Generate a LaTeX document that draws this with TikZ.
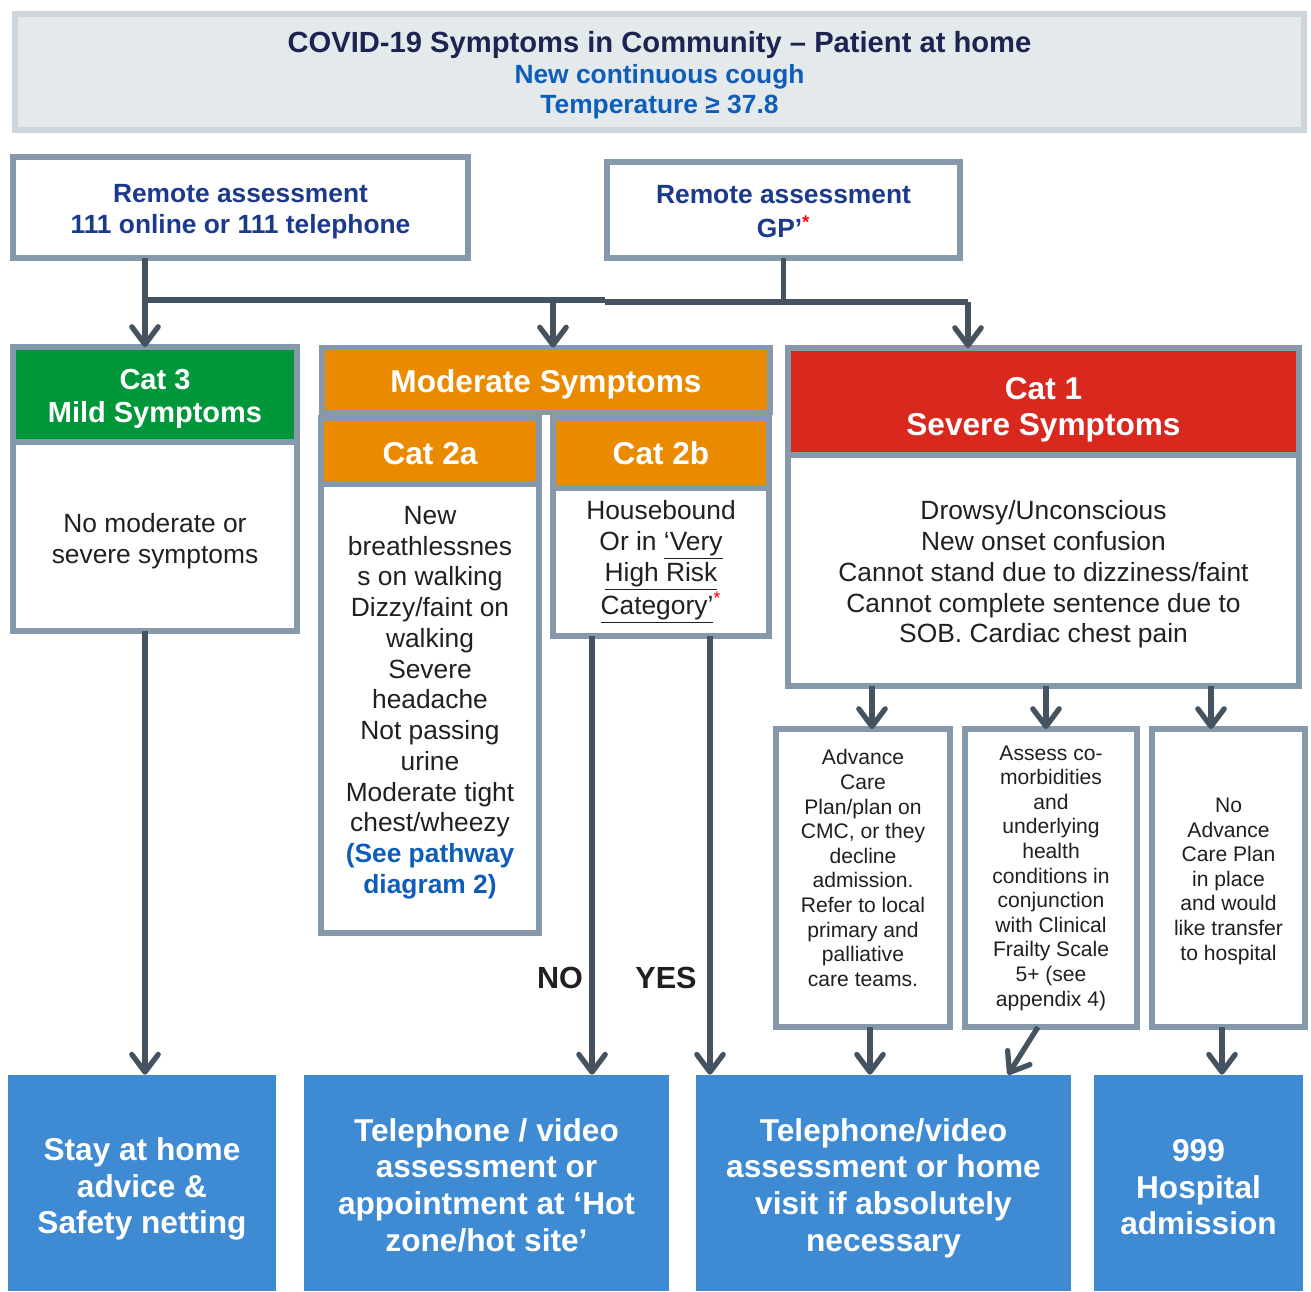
\documentclass[tikz,border=0pt]{standalone}
\usepackage{fontspec}
\setmainfont{Liberation Sans}
\usetikzlibrary{positioning,arrows.meta}
\pgfdeclarelayer{background layer}
\pgfsetlayers{background layer,main}
\definecolor{framegray}{HTML}{8599AB}
\definecolor{linkgray}{HTML}{44535F}
\definecolor{titlefill}{HTML}{E4E9EC}
\definecolor{titleline}{HTML}{CDD6DD}
\definecolor{titlenavy}{HTML}{1D2452}
\definecolor{subblue}{HTML}{0E5DB8}
\definecolor{navytext}{HTML}{1B3A8C}
\definecolor{bodytext}{HTML}{231F20}
\definecolor{catgreen}{HTML}{00973A}
\definecolor{modorange}{HTML}{EA8A00}
\definecolor{catred}{HTML}{D9291F}
\definecolor{outblue}{HTML}{3E8BD4}
% invisible struts to nudge text inside fixed boxes
\newcommand{\toppad}[1]{\rule{0pt}{#1}}
\newcommand{\botpad}[1]{\rule[-#1]{0pt}{0pt}}
\tikzset{
	block base/.style={draw=framegray, rectangle, line width=3.4pt, outer sep=0pt, inner sep=0pt, align=center, text=bodytext},
	head base/.style={block base, text=white, font=\bfseries\fontsize{18}{21}\selectfont},
	body base/.style={block base, fill=white, font=\fontsize{15}{17.5}\selectfont},
	small base/.style={block base, fill=white, font=\fontsize{12}{14}\selectfont},
	out base/.style={rectangle, fill=outblue, text=white, align=center, inner sep=0pt, font=\bfseries\fontsize{18}{20.8}\selectfont},
	link/.style={draw=linkgray, line width=3pt},
	arr/.style={link, -{Straight Barb[length=10pt,width=15pt,round]}},
}
\begin{document}
\begin{tikzpicture}[x=0.02cm, y=-0.02cm]
	\useasboundingbox (0,0) rectangle (1311,1291);
	% Title banner
	\node [block base, draw=titleline, fill=titlefill, text=titlenavy, minimum width=25.78cm, minimum height=2.32cm, font=\bfseries\fontsize{15}{17.4}\selectfont] (title) at (659.5,72) {{\fontsize{16.6}{17.6}\selectfont\toppad{16.1pt}COVID-19 Symptoms in Community – Patient at home}\\\textcolor{subblue}{New continuous cough}\\\textcolor{subblue}{Temperature ≥ 37.8}};

	% Remote assessment
	\node [block base, fill=white, text=navytext, minimum width=9.10cm, minimum height=2.02cm, font=\bfseries\fontsize{15}{17.6}\selectfont] (r111) at (240.5,207.5) {\toppad{15.3pt}Remote assessment\\111 online or 111 telephone};
	\node [block base, fill=white, text=navytext, minimum width=7.06cm, minimum height=1.92cm, font=\bfseries\fontsize{15}{19.5}\selectfont] (rgp) at (783.5,210) {\toppad{12.5pt}Remote assessment\\GP’\textsuperscript{\color{red}*}};

	% Categories
	\node [head base, fill=catgreen, minimum width=5.69cm, minimum height=1.90cm, font=\bfseries\fontsize{16.5}{18.8}\selectfont] (cat3head) at (155,394.5) {\toppad{16.4pt}Cat 3\\Mild Symptoms};
	\node [body base, minimum width=5.69cm, minimum height=3.78cm, below=0pt of cat3head] (cat3body) {\toppad{15.9pt}No moderate or\\severe symptoms};

	\node [head base, fill=modorange, minimum width=8.96cm, minimum height=1.30cm] (modhead) at (546,380) {\toppad{17.7pt}Moderate Symptoms};
	\node [head base, fill=modorange, minimum width=4.36cm, minimum height=1.32cm] (cat2ahead) at (430,451) {\toppad{15.2pt}Cat 2a};
	\node [body base, minimum width=4.36cm, minimum height=8.98cm, below=0pt of cat2ahead] (cat2abody) {New\\breathlessnes\\s on walking\\Dizzy/faint on\\walking\\Severe\\headache\\Not passing\\urine\\Moderate tight\\chest/wheezy\\{\bfseries\color{subblue}(See pathway}\\{\bfseries\color{subblue}diagram 2)}\botpad{9.9pt}};
	\node [head base, fill=modorange, minimum width=4.32cm, minimum height=1.40cm] (cat2bhead) at (661,453) {Cat 2b};
	\node [body base, minimum width=4.32cm, minimum height=2.96cm, below=0pt of cat2bhead] (cat2bbody) {Housebound\\Or in \underline{‘Very}\\\underline{High Risk}\\\underline{Category’}\textsuperscript{\color{red}*}};

	\node [head base, fill=catred, minimum width=10.22cm, minimum height=2.14cm] (cat1head) at (1043.5,401.5) {\toppad{22pt}Cat 1\\Severe Symptoms};
	\node [body base, minimum width=10.22cm, minimum height=4.62cm, below=0pt of cat1head] (cat1body) {\toppad{15.5pt}Drowsy/Unconscious\\New onset confusion\\Cannot stand due to dizziness/faint\\Cannot complete sentence due to\\SOB. Cardiac chest pain};

	% Cat 1 options
	\node [small base, minimum width=3.48cm, minimum height=5.96cm] (acp) at (863,878) {Advance\\Care\\Plan/plan on\\CMC, or they\\decline\\admission.\\Refer to local\\primary and\\palliative\\care teams.\botpad{11.4pt}};
	\node [small base, minimum width=3.44cm, minimum height=5.96cm] (assess) at (1051,878) {Assess co-\\morbidities\\and\\underlying\\health\\conditions in\\conjunction\\with Clinical\\Frailty Scale\\5+ (see\\appendix 4)};
	\node [small base, minimum width=3.06cm, minimum height=5.96cm] (noacp) at (1228.5,878) {\toppad{12pt}No\\Advance\\Care Plan\\in place\\and would\\like transfer\\to hospital};

	% Outcomes
	\node [out base, minimum width=5.36cm, minimum height=4.32cm] (stay) at (142,1183) {\toppad{19.9pt}Stay at home\\advice \&\\Safety netting};
	\node [out base, minimum width=7.30cm, minimum height=4.32cm] (tele) at (486.5,1183) {\toppad{15.4pt}Telephone / video\\assessment or\\appointment at ‘Hot\\zone/hot site’};
	\node [out base, minimum width=7.50cm, minimum height=4.32cm] (visit) at (883.5,1183) {\toppad{18.8pt}Telephone/video\\assessment or home\\visit if absolutely\\necessary};
	\node [out base, minimum width=4.18cm, minimum height=4.32cm] (hosp) at (1198.5,1183) {\toppad{17.4pt}999\\Hospital\\admission};

	% Connectors
	\coordinate (busL) at (145,300);
	\coordinate (busC) at (553,300);
	\coordinate (busM) at (605,300);
	\coordinate (busN) at (605,302);
	\coordinate (busR) at (968,302);
	\draw [link] (r111.south -| busL) -- (busL) -- (busM);
	\draw [link] (rgp.south) -- (rgp.south |- busN);
	\draw [link] (busN) -- (busR);
	\draw [arr] (busL) -- (cat3head.north -| busL);
	\draw [arr] (busC) -- (modhead.north -| busC);
	\draw [arr] (busR) -- (cat1head.north -| busR);

	\draw [arr] (cat3body.south -| busL) -- (stay.north -| busL);

	\coordinate (noX) at (592,0);
	\coordinate (yesX) at (710,0);
	\draw [arr] (cat2bbody.south -| noX) -- (tele.north -| noX);
	\draw [arr] (cat2bbody.south -| yesX) -- (visit.north -| yesX);
	\node [text=bodytext, font=\bfseries\fontsize{17.4}{20}\selectfont] (no) at (560,978) {NO};
	\node [text=bodytext, font=\bfseries\fontsize{17.4}{20}\selectfont] (yes) at (666,978) {YES};

	\coordinate (c1a) at (872,0);
	\coordinate (c1b) at (1046,0);
	\coordinate (c1c) at (1211,0);
	\draw [arr] (cat1body.south -| c1a) -- (acp.north -| c1a);
	\draw [arr] (cat1body.south -| c1b) -- (assess.north -| c1b);
	\draw [arr] (cat1body.south -| c1c) -- (noacp.north -| c1c);

	\coordinate (d1) at (870,0);
	\coordinate (d2) at (1038,0);
	\coordinate (d3) at (1008,0);
	\coordinate (d4) at (1222,0);
	\draw [arr] (acp.south -| d1) -- (visit.north -| d1);
	\draw [arr] (assess.south -| d2) -- (visit.north -| d3);
	\draw [arr] (noacp.south -| d4) -- (hosp.north -| d4);

	\begin{pgfonlayer}{background layer}
	\fill [white] (0,0) rectangle (1311,1291);
	\end{pgfonlayer}
\end{tikzpicture}
\end{document}
